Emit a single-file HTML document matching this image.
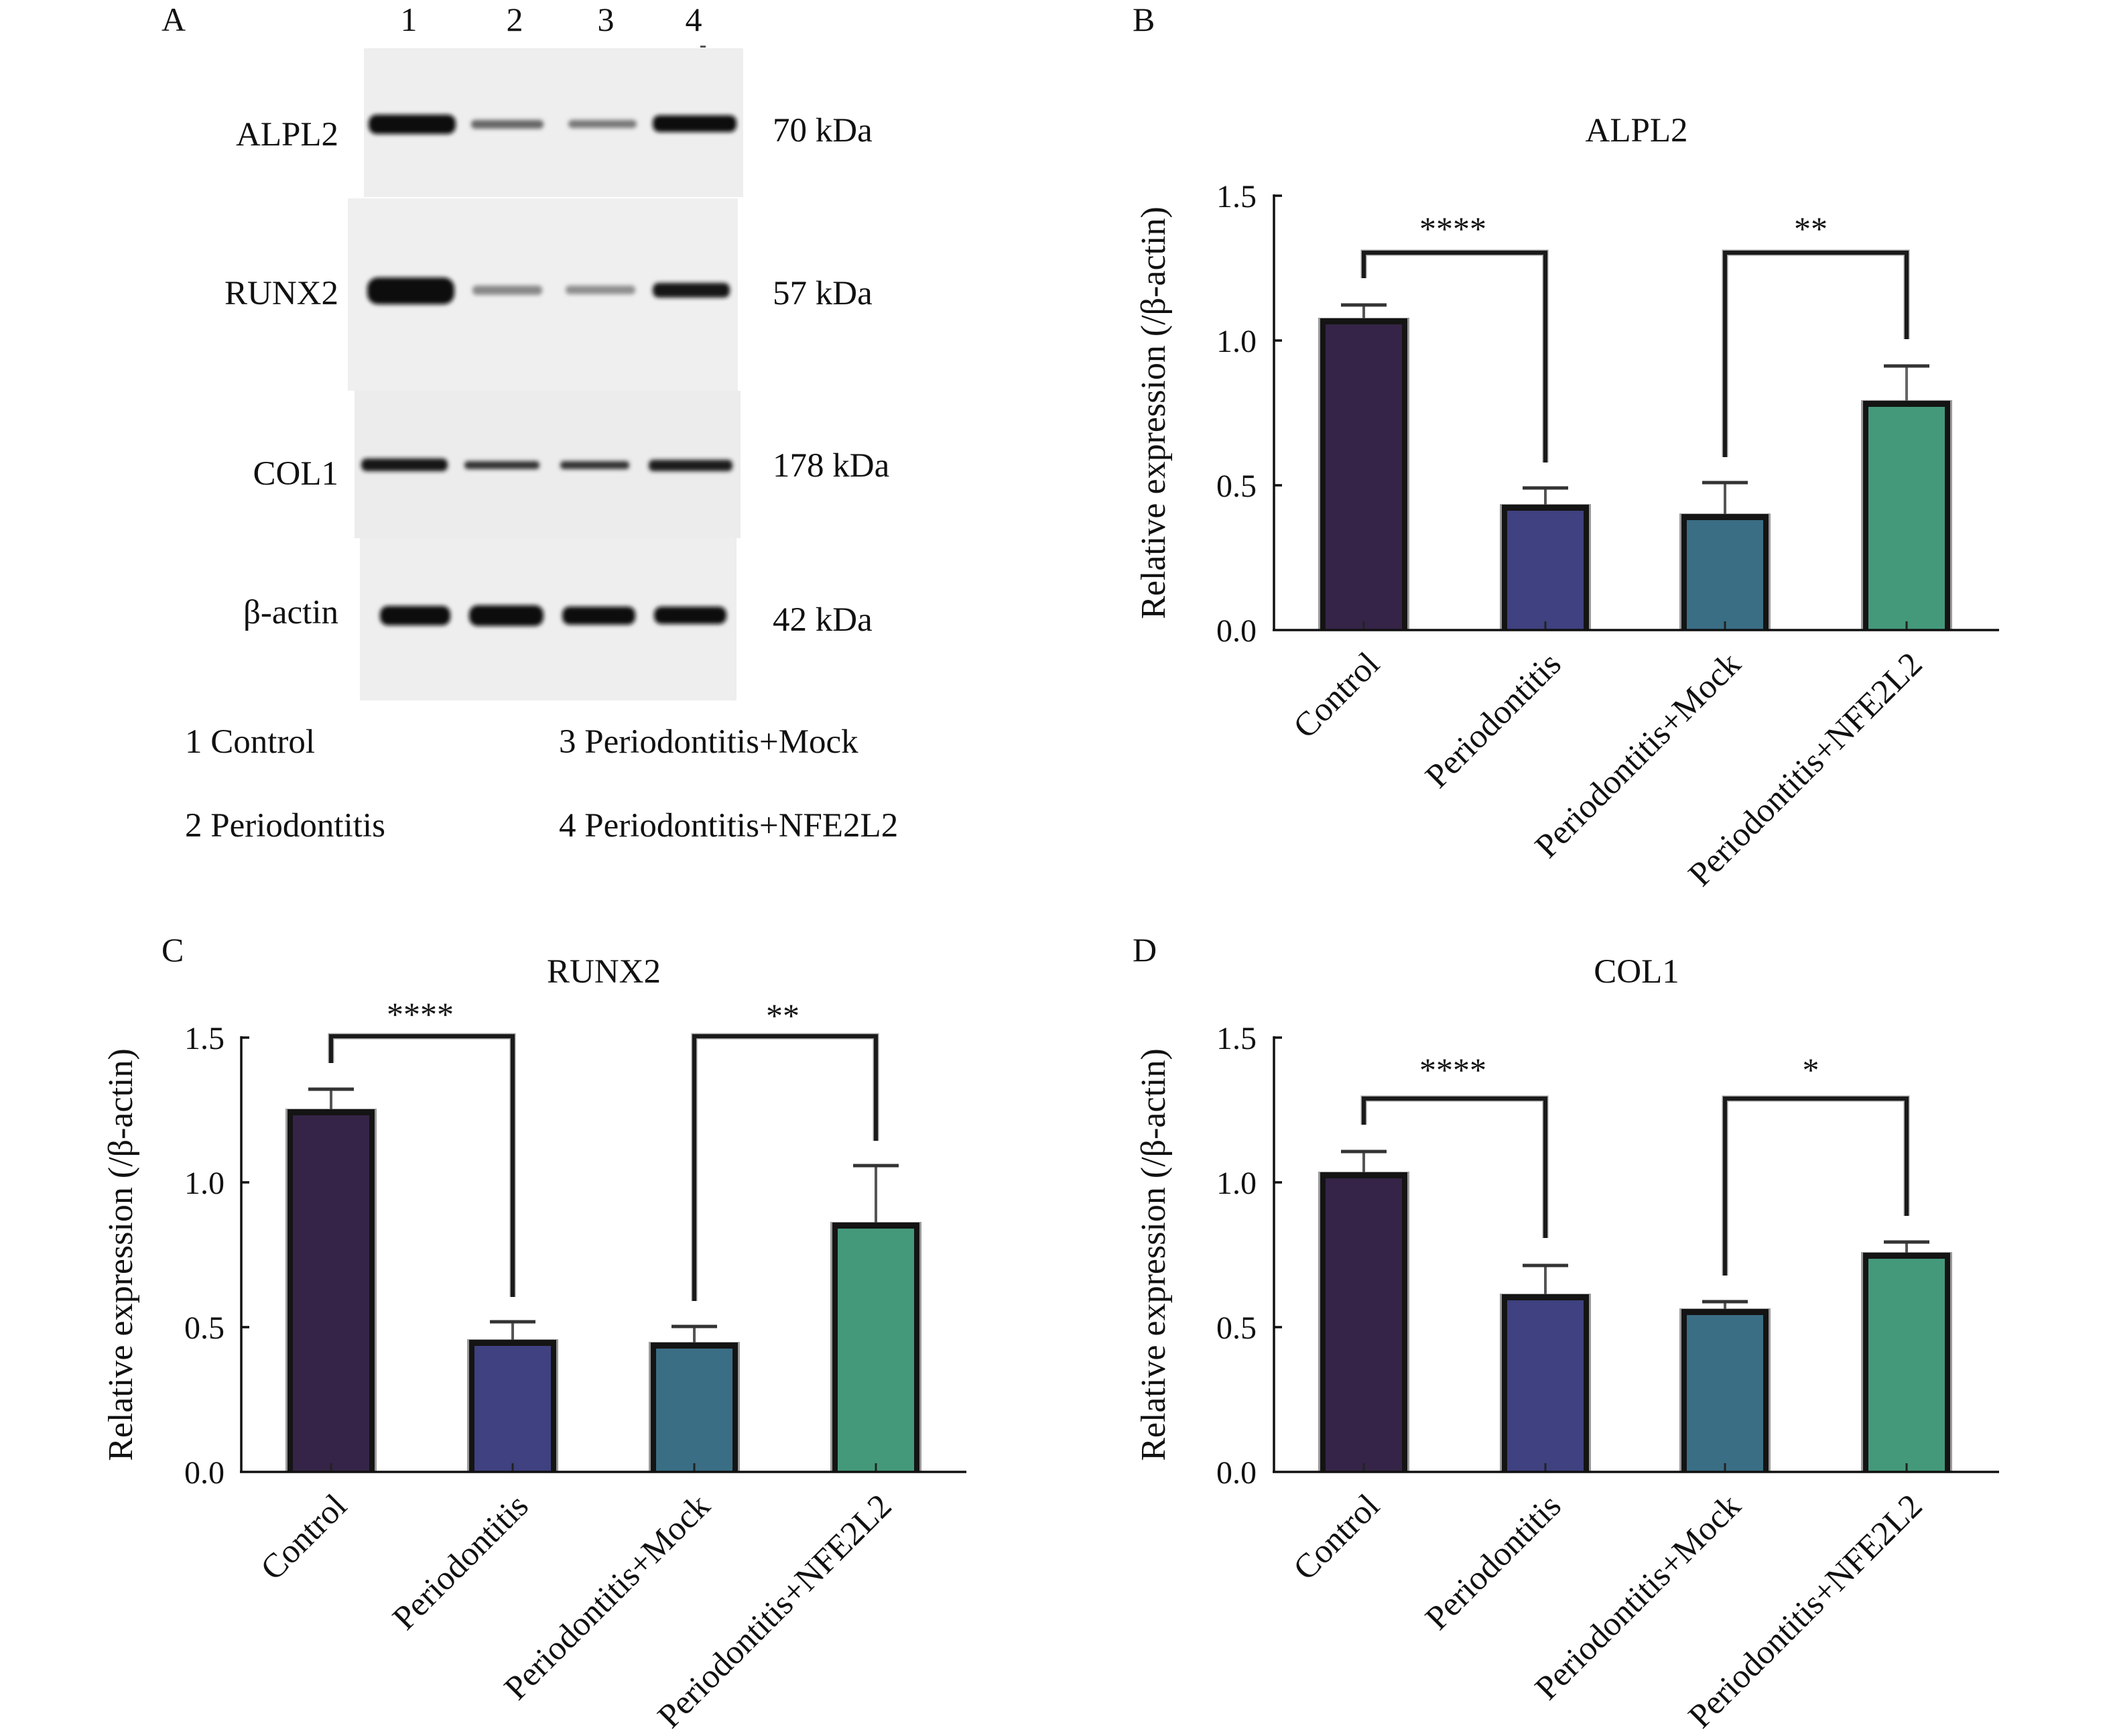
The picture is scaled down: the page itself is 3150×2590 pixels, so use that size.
<!DOCTYPE html>
<html>
<head>
<meta charset="utf-8">
<style>
html,body{margin:0;padding:0;background:#fff;}
svg{display:block;}
text{font-family:"Liberation Serif","Times New Roman",serif;fill:#111;}
</style>
</head>
<body>
<svg xmlns="http://www.w3.org/2000/svg" width="3150" height="2590" viewBox="0 0 3150 2590">
<defs>
<filter id="bl" x="-20%" y="-150%" width="140%" height="400%"><feGaussianBlur stdDeviation="3.2"/></filter>
<filter id="bg" x="-5%" y="-5%" width="110%" height="110%"><feGaussianBlur stdDeviation="1.5"/></filter>
</defs>
<rect width="3150" height="2590" fill="#fff"/>

<!-- ============ PANEL A ============ -->
<text x="241" y="46" font-size="50">A</text>
<text x="610" y="46" font-size="50" text-anchor="middle">1</text>
<text x="768" y="46" font-size="50" text-anchor="middle">2</text>
<text x="904" y="46" font-size="50" text-anchor="middle">3</text>
<text x="1035" y="46" font-size="50" text-anchor="middle">4</text>
<rect x="1045" y="68" width="8" height="3" fill="#555"/>

<!-- blot backgrounds -->
<rect x="543" y="72" width="566" height="222" fill="#eeeeee"/>
<rect x="519" y="296" width="582" height="287" fill="#efefef"/>
<rect x="529" y="583" width="576" height="220" fill="#ececec"/>
<rect x="537" y="803" width="562" height="242" fill="#eeeeee"/>

<g filter="url(#bl)">
<!-- ALPL2 -->
<rect x="550" y="171" width="130" height="29" rx="12" fill="#0c0c0c"/>
<rect x="703" y="179" width="108" height="13" rx="6" fill="#666"/>
<rect x="848" y="179" width="102" height="12" rx="6" fill="#777"/>
<rect x="974" y="172" width="125" height="25" rx="10" fill="#111"/>
<!-- RUNX2 -->
<rect x="548" y="414" width="130" height="40" rx="16" fill="#0a0a0a"/>
<rect x="705" y="426" width="104" height="14" rx="6" fill="#888"/>
<rect x="844" y="426" width="104" height="13" rx="6" fill="#8e8e8e"/>
<rect x="974" y="422" width="115" height="22" rx="9" fill="#141414"/>
<!-- COL1 -->
<rect x="539" y="684" width="129" height="19" rx="8" fill="#141414"/>
<rect x="693" y="688" width="112" height="12" rx="5" fill="#333"/>
<rect x="836" y="688" width="103" height="12" rx="5" fill="#333"/>
<rect x="968" y="686" width="125" height="17" rx="7" fill="#1a1a1a"/>
<!-- beta-actin -->
<rect x="567" y="904" width="105" height="29" rx="12" fill="#0e0e0e"/>
<rect x="700" y="903" width="111" height="31" rx="13" fill="#0c0c0c"/>
<rect x="839" y="905" width="109" height="27" rx="11" fill="#0e0e0e"/>
<rect x="976" y="905" width="108" height="26" rx="11" fill="#0e0e0e"/>
</g>

<text x="505" y="217" font-size="51" text-anchor="end">ALPL2</text>
<text x="505" y="454" font-size="51" text-anchor="end">RUNX2</text>
<text x="505" y="723" font-size="51" text-anchor="end">COL1</text>
<text x="505" y="930" font-size="51" text-anchor="end">β-actin</text>

<text x="1153" y="211" font-size="51">70 kDa</text>
<text x="1153" y="454" font-size="51">57 kDa</text>
<text x="1153" y="711" font-size="51">178 kDa</text>
<text x="1153" y="941" font-size="51">42 kDa</text>

<text x="276" y="1123" font-size="51">1 Control</text>
<text x="276" y="1248" font-size="51">2 Periodontitis</text>
<text x="834" y="1123" font-size="51">3 Periodontitis+Mock</text>
<text x="834" y="1248" font-size="51">4 Periodontitis+NFE2L2</text>

<!-- ============ PANEL B ============ -->
<text x="1690" y="46" font-size="50">B</text>
<text x="2442" y="211" font-size="51" text-anchor="middle">ALPL2</text>
<text transform="translate(1738,616) rotate(-90)" font-size="52" text-anchor="middle">Relative expression (/β-actin)</text>
<g font-size="48" text-anchor="end">
<text x="1875" y="309">1.5</text>
<text x="1875" y="525">1.0</text>
<text x="1875" y="741">0.5</text>
<text x="1875" y="957">0.0</text>
</g>
<!-- bars B -->
<g>
<rect x="1967" y="474" width="136" height="466" fill="#9a9a9a"/>
<rect x="1970" y="475" width="130" height="465" fill="#141414"/>
<rect x="1978" y="484" width="114" height="456" fill="#352447"/>
<rect x="2238" y="752" width="136" height="188" fill="#9a9a9a"/>
<rect x="2241" y="753" width="130" height="187" fill="#141414"/>
<rect x="2249" y="762" width="114" height="178" fill="#3f4180"/>
<rect x="2506" y="766" width="136" height="174" fill="#9a9a9a"/>
<rect x="2509" y="767" width="130" height="173" fill="#141414"/>
<rect x="2517" y="776" width="114" height="164" fill="#3a6e84"/>
<rect x="2777" y="597" width="136" height="343" fill="#9a9a9a"/>
<rect x="2780" y="598" width="130" height="342" fill="#141414"/>
<rect x="2788" y="607" width="114" height="333" fill="#44997a"/>
</g>
<g stroke-linecap="butt">
<line x1="2035" y1="455" x2="2035" y2="475" stroke="#555" stroke-width="4"/>
<line x1="2001" y1="455" x2="2069" y2="455" stroke="#333" stroke-width="5"/>
<line x1="2306" y1="728" x2="2306" y2="753" stroke="#555" stroke-width="4"/>
<line x1="2272" y1="728" x2="2340" y2="728" stroke="#333" stroke-width="5"/>
<line x1="2574" y1="720" x2="2574" y2="767" stroke="#555" stroke-width="4"/>
<line x1="2540" y1="720" x2="2608" y2="720" stroke="#333" stroke-width="5"/>
<line x1="2845" y1="546" x2="2845" y2="598" stroke="#666" stroke-width="4"/>
<line x1="2811" y1="546" x2="2879" y2="546" stroke="#333" stroke-width="5"/>
</g>
<g stroke="#222" stroke-width="3">
<line x1="2035" y1="940" x2="2035" y2="927"/>
<line x1="2306" y1="940" x2="2306" y2="927"/>
<line x1="2574" y1="940" x2="2574" y2="927"/>
<line x1="2845" y1="940" x2="2845" y2="927"/>
</g>
<!-- axes B -->
<g stroke="#111" stroke-width="3.5" fill="none">
<line x1="1901" y1="290" x2="1901" y2="941.5"/>
<line x1="1899" y1="940" x2="2983" y2="940"/>
<line x1="1901" y1="292" x2="1913" y2="292"/>
<line x1="1901" y1="508" x2="1913" y2="508"/>
<line x1="1901" y1="724" x2="1913" y2="724"/>
</g>
<!-- brackets B -->
<g fill="none" stroke-linejoin="miter">
<polyline points="2035,415 2035,377 2306,377 2306,690" stroke="#999" stroke-width="9"/>
<polyline points="2035,415 2035,377 2306,377 2306,690" stroke="#1a1a1a" stroke-width="6"/>
<polyline points="2574,682 2574,377 2845,377 2845,506" stroke="#999" stroke-width="9"/>
<polyline points="2574,682 2574,377 2845,377 2845,506" stroke="#1a1a1a" stroke-width="6"/>
</g>
<text x="2168" y="358" font-size="50" text-anchor="middle">****</text>
<text x="2702" y="358" font-size="50" text-anchor="middle">**</text>
<g font-size="51" text-anchor="end">
<text transform="translate(2061,994) rotate(-45)">Control</text>
<text transform="translate(2332,994) rotate(-45)">Periodontitis</text>
<text transform="translate(2600,994) rotate(-45)">Periodontitis+Mock</text>
<text transform="translate(2871,994) rotate(-45)">Periodontitis+NFE2L2</text>
</g>

<!-- ============ PANEL C ============ -->
<text x="241" y="1434" font-size="50">C</text>
<text x="901" y="1466" font-size="51" text-anchor="middle">RUNX2</text>
<text transform="translate(197,1872) rotate(-90)" font-size="52" text-anchor="middle">Relative expression (/β-actin)</text>
<g font-size="48" text-anchor="end">
<text x="335" y="1565">1.5</text>
<text x="335" y="1781">1.0</text>
<text x="335" y="1997">0.5</text>
<text x="335" y="2213">0.0</text>
</g>
<g>
<rect x="426" y="1654" width="136" height="542" fill="#9a9a9a"/>
<rect x="429" y="1655" width="130" height="541" fill="#141414"/>
<rect x="437" y="1664" width="114" height="532" fill="#352447"/>
<rect x="697" y="1998" width="136" height="198" fill="#9a9a9a"/>
<rect x="700" y="1999" width="130" height="197" fill="#141414"/>
<rect x="708" y="2008" width="114" height="188" fill="#3f4180"/>
<rect x="968" y="2002" width="136" height="194" fill="#9a9a9a"/>
<rect x="971" y="2003" width="130" height="193" fill="#141414"/>
<rect x="979" y="2012" width="114" height="184" fill="#3a6e84"/>
<rect x="1239" y="1823" width="136" height="373" fill="#9a9a9a"/>
<rect x="1242" y="1824" width="130" height="372" fill="#141414"/>
<rect x="1250" y="1833" width="114" height="363" fill="#44997a"/>
</g>
<g>
<line x1="494" y1="1625" x2="494" y2="1655" stroke="#555" stroke-width="4"/>
<line x1="460" y1="1625" x2="528" y2="1625" stroke="#333" stroke-width="5"/>
<line x1="765" y1="1972" x2="765" y2="1999" stroke="#555" stroke-width="4"/>
<line x1="731" y1="1972" x2="799" y2="1972" stroke="#333" stroke-width="5"/>
<line x1="1036" y1="1979" x2="1036" y2="2003" stroke="#555" stroke-width="4"/>
<line x1="1002" y1="1979" x2="1070" y2="1979" stroke="#333" stroke-width="5"/>
<line x1="1307" y1="1739" x2="1307" y2="1824" stroke="#555" stroke-width="4"/>
<line x1="1273" y1="1739" x2="1341" y2="1739" stroke="#333" stroke-width="5"/>
</g>
<g stroke="#222" stroke-width="3">
<line x1="494" y1="2196" x2="494" y2="2183"/>
<line x1="765" y1="2196" x2="765" y2="2183"/>
<line x1="1036" y1="2196" x2="1036" y2="2183"/>
<line x1="1307" y1="2196" x2="1307" y2="2183"/>
</g>
<g stroke="#111" stroke-width="3.5" fill="none">
<line x1="360" y1="1546" x2="360" y2="2197.5"/>
<line x1="358" y1="2196" x2="1442" y2="2196"/>
<line x1="360" y1="1548" x2="372" y2="1548"/>
<line x1="360" y1="1764" x2="372" y2="1764"/>
<line x1="360" y1="1980" x2="372" y2="1980"/>
</g>
<g fill="none">
<polyline points="494,1586 494,1546 765,1546 765,1935" stroke="#999" stroke-width="9"/>
<polyline points="494,1586 494,1546 765,1546 765,1935" stroke="#1a1a1a" stroke-width="6"/>
<polyline points="1036,1941 1036,1546 1307,1546 1307,1702" stroke="#999" stroke-width="9"/>
<polyline points="1036,1941 1036,1546 1307,1546 1307,1702" stroke="#1a1a1a" stroke-width="6"/>
</g>
<text x="627" y="1530" font-size="50" text-anchor="middle">****</text>
<text x="1168" y="1532" font-size="50" text-anchor="middle">**</text>
<g font-size="51" text-anchor="end">
<text transform="translate(520,2250) rotate(-45)">Control</text>
<text transform="translate(791,2250) rotate(-45)">Periodontitis</text>
<text transform="translate(1062,2250) rotate(-45)">Periodontitis+Mock</text>
<text transform="translate(1333,2250) rotate(-45)">Periodontitis+NFE2L2</text>
</g>

<!-- ============ PANEL D ============ -->
<text x="1690" y="1434" font-size="50">D</text>
<text x="2442" y="1466" font-size="51" text-anchor="middle">COL1</text>
<text transform="translate(1738,1872) rotate(-90)" font-size="52" text-anchor="middle">Relative expression (/β-actin)</text>
<g font-size="48" text-anchor="end">
<text x="1875" y="1565">1.5</text>
<text x="1875" y="1781">1.0</text>
<text x="1875" y="1997">0.5</text>
<text x="1875" y="2213">0.0</text>
</g>
<g>
<rect x="1967" y="1748" width="136" height="448" fill="#9a9a9a"/>
<rect x="1970" y="1749" width="130" height="447" fill="#141414"/>
<rect x="1978" y="1758" width="114" height="438" fill="#352447"/>
<rect x="2238" y="1930" width="136" height="266" fill="#9a9a9a"/>
<rect x="2241" y="1931" width="130" height="265" fill="#141414"/>
<rect x="2249" y="1940" width="114" height="256" fill="#3f4180"/>
<rect x="2506" y="1952" width="136" height="244" fill="#9a9a9a"/>
<rect x="2509" y="1953" width="130" height="243" fill="#141414"/>
<rect x="2517" y="1962" width="114" height="234" fill="#3a6e84"/>
<rect x="2777" y="1868" width="136" height="328" fill="#9a9a9a"/>
<rect x="2780" y="1869" width="130" height="327" fill="#141414"/>
<rect x="2788" y="1878" width="114" height="318" fill="#44997a"/>
</g>
<g>
<line x1="2035" y1="1718" x2="2035" y2="1749" stroke="#555" stroke-width="4"/>
<line x1="2001" y1="1718" x2="2069" y2="1718" stroke="#333" stroke-width="5"/>
<line x1="2306" y1="1888" x2="2306" y2="1931" stroke="#555" stroke-width="4"/>
<line x1="2272" y1="1888" x2="2340" y2="1888" stroke="#333" stroke-width="5"/>
<line x1="2574" y1="1942" x2="2574" y2="1953" stroke="#555" stroke-width="4"/>
<line x1="2540" y1="1942" x2="2608" y2="1942" stroke="#333" stroke-width="5"/>
<line x1="2845" y1="1853" x2="2845" y2="1869" stroke="#555" stroke-width="4"/>
<line x1="2811" y1="1853" x2="2879" y2="1853" stroke="#333" stroke-width="5"/>
</g>
<g stroke="#222" stroke-width="3">
<line x1="2035" y1="2196" x2="2035" y2="2183"/>
<line x1="2306" y1="2196" x2="2306" y2="2183"/>
<line x1="2574" y1="2196" x2="2574" y2="2183"/>
<line x1="2845" y1="2196" x2="2845" y2="2183"/>
</g>
<g stroke="#111" stroke-width="3.5" fill="none">
<line x1="1901" y1="1546" x2="1901" y2="2197.5"/>
<line x1="1899" y1="2196" x2="2983" y2="2196"/>
<line x1="1901" y1="1548" x2="1913" y2="1548"/>
<line x1="1901" y1="1764" x2="1913" y2="1764"/>
<line x1="1901" y1="1980" x2="1913" y2="1980"/>
</g>
<g fill="none">
<polyline points="2035,1678 2035,1639 2306,1639 2306,1847" stroke="#999" stroke-width="9"/>
<polyline points="2035,1678 2035,1639 2306,1639 2306,1847" stroke="#1a1a1a" stroke-width="6"/>
<polyline points="2574,1903 2574,1639 2845,1639 2845,1814" stroke="#999" stroke-width="9"/>
<polyline points="2574,1903 2574,1639 2845,1639 2845,1814" stroke="#1a1a1a" stroke-width="6"/>
</g>
<text x="2168" y="1613" font-size="50" text-anchor="middle">****</text>
<text x="2702" y="1613" font-size="50" text-anchor="middle">*</text>
<g font-size="51" text-anchor="end">
<text transform="translate(2061,2250) rotate(-45)">Control</text>
<text transform="translate(2332,2250) rotate(-45)">Periodontitis</text>
<text transform="translate(2600,2250) rotate(-45)">Periodontitis+Mock</text>
<text transform="translate(2871,2250) rotate(-45)">Periodontitis+NFE2L2</text>
</g>
</svg>
</body>
</html>
